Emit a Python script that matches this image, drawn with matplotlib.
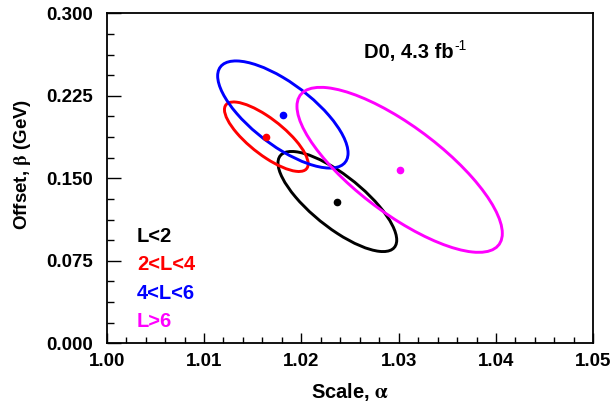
import numpy as np
import matplotlib
matplotlib.use('Agg')
import matplotlib.pyplot as plt
from matplotlib.patches import Ellipse
from matplotlib.transforms import Affine2D
from matplotlib.ticker import MultipleLocator, FormatStrFormatter

plt.rcParams['font.family'] = 'Liberation Sans'
plt.rcParams['font.weight'] = 'bold'
plt.rcParams['mathtext.fontset'] = 'stix'

# fit results per category: centre, half-extent of the contour in x and y, correlation
labels = ['L<2', '2<L<4', '4<L<6', 'L>6']
colors = ['black', '#ff0000', '#0000ff', '#ff00ff']
alpha_c = [1.0237, 1.0164, 1.0181, 1.0301]
beta_c = [0.1289, 0.1878, 0.2080, 0.1577]
alpha_hw = [0.0061, 0.0043, 0.0067, 0.01055]
beta_hw = [0.0455, 0.0316, 0.0487, 0.0750]
rho = [-0.77, -0.78, -0.72, -0.77]

fig = plt.figure(figsize=(6.14, 4.07), dpi=100)
ax = fig.add_axes([0.1738, 0.1565, 0.7925, 0.8108])

for i in range(len(labels)):
    # unit circle mapped onto the error ellipse
    m = Affine2D(np.array([[alpha_hw[i], 0., alpha_c[i]],
                           [beta_hw[i]*rho[i], beta_hw[i]*np.sqrt(1-rho[i]**2), beta_c[i]],
                           [0., 0., 1.]]))
    e = Ellipse((0, 0), 2, 2, fill=False, edgecolor=colors[i], linewidth=2.1,
                transform=m + ax.transData)
    ax.add_patch(e)
    ax.plot(alpha_c[i], beta_c[i], 'o', color=colors[i], markersize=4.5)

ax.set_xlim(1.0, 1.05)
ax.set_ylim(0.0, 0.3)
ax.xaxis.set_major_locator(MultipleLocator(0.01))
ax.xaxis.set_minor_locator(MultipleLocator(0.002))
ax.yaxis.set_major_locator(MultipleLocator(0.075))
ax.yaxis.set_minor_locator(MultipleLocator(0.01875))
ax.xaxis.set_major_formatter(FormatStrFormatter('%.2f'))
ax.yaxis.set_major_formatter(FormatStrFormatter('%.3f'))
ax.tick_params(which='both', direction='in', top=False, right=False, labelsize=13.5)
ax.tick_params(axis='x', which='major', length=7, width=1, pad=7)
ax.tick_params(axis='x', which='minor', length=4, width=1)
ax.tick_params(axis='y', which='major', length=10, width=1, pad=10)
ax.tick_params(axis='y', which='minor', length=5, width=1)
for s in ax.spines.values():
    s.set_linewidth(1.3)

ax.set_xlabel(r'Scale, $\mathrm{\alpha}$', fontsize=14.5, fontweight='bold')
ax.set_ylabel(r'Offset, $\mathrm{\beta}$ (GeV)', fontsize=13.5, fontweight='bold')
ax.xaxis.set_label_coords(0.5, -0.115)
ax.yaxis.set_label_coords(-0.152, 0.543)

t = ax.text(0.5288, 0.8636, 'D0, 4.3 fb', transform=ax.transAxes,
            fontsize=14.5, fontweight='bold')
ax.annotate('-1', xy=(1, 1), xycoords=t, xytext=(0.5, 3), textcoords='offset points',
            ha='left', va='top', fontsize=10, fontweight='normal')

for i, lab in enumerate(labels):
    ax.text(0.062, 0.308 - i*0.0865, lab, transform=ax.transAxes, color=colors[i],
            fontsize=14.5, fontweight='bold')

fig.savefig('out.png', dpi=100)
